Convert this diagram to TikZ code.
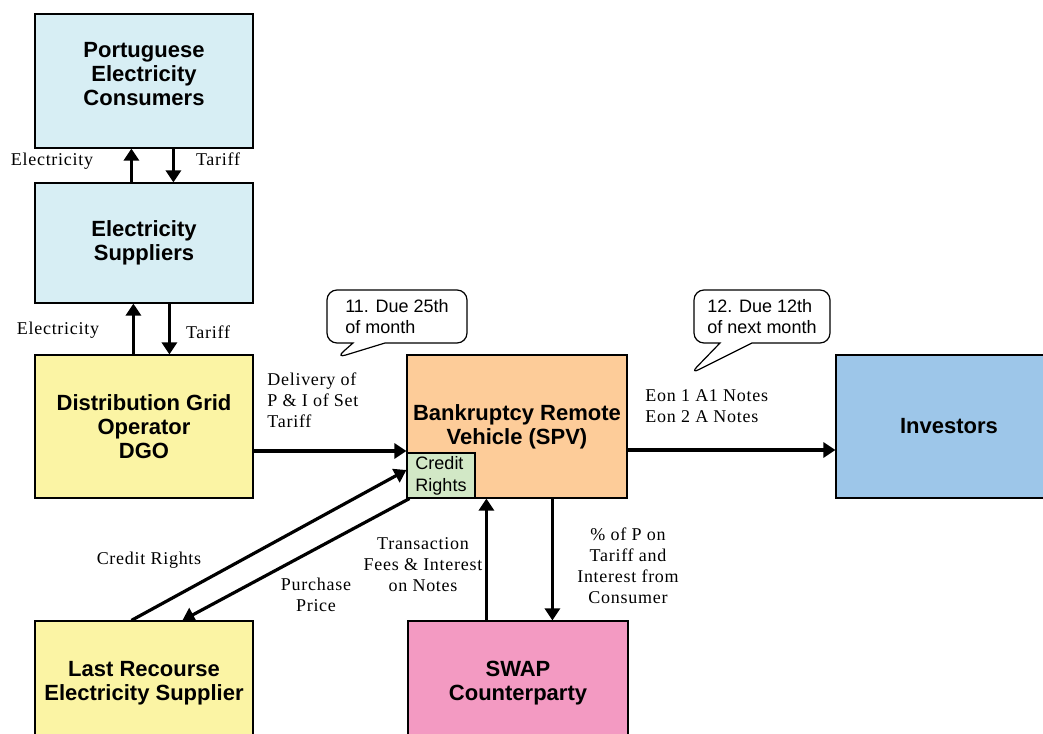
\documentclass[tikz,border=0pt]{standalone}
\usepackage{fontspec}
\setmainfont{Liberation Serif}
\setsansfont{Liberation Sans}
\newfontfamily\lblfont[LetterSpace=4]{Liberation Serif}
\usetikzlibrary{arrows.meta,shapes.callouts}

\definecolor{consblue}{HTML}{D7EEF4}
\definecolor{dgoyellow}{HTML}{FBF4A4}
\definecolor{spvorange}{HTML}{FDCC99}
\definecolor{creditgreen}{HTML}{D2E8C6}
\definecolor{invblue}{HTML}{9DC6E9}
\definecolor{swappink}{HTML}{F39AC2}

\tikzset{
  box/.style={draw, line width=0.6pt, align=center, inner sep=0pt,
    font=\sffamily\bfseries\fontsize{11}{12}\selectfont},
  lbl/.style={align=center, inner sep=0pt, font=\lblfont\fontsize{9}{10.5}\selectfont},
  flow/.style={line width=1.6pt, -{Triangle[length=6pt,width=7.5pt]}},
  bubble/.style={draw, rectangle callout, rounded corners=5pt, fill=white,
    line width=0.6pt, align=left, minimum width=70pt, minimum height=26.5pt,
    callout pointer width=16pt, font=\sffamily\fontsize{9}{10.5}\selectfont}
}

\begin{document}
\begin{tikzpicture}[x=0.5pt, y=-0.5pt]
\useasboundingbox (0,0) rectangle (1043,733);

\node[box, fill=consblue, minimum width=109pt, minimum height=67pt, text depth=7pt] (cons) at (144,81) {Portuguese\\Electricity\\Consumers};
\node[box, fill=consblue, minimum width=109pt, minimum height=60pt]    (supp) at (144,243)   {Electricity\\Suppliers};
\node[box, fill=dgoyellow, minimum width=109pt, minimum height=71.5pt] (dgo)  at (144,426.5) {Distribution Grid\\Operator\\DGO};
\node[box, fill=spvorange, minimum width=110pt, minimum height=71.5pt] (spv)  at (517,426.5) {Bankruptcy Remote\\Vehicle (SPV)};
\node[box, fill=creditgreen, minimum width=34pt, minimum height=22.5pt, align=left,
      font=\sffamily\fontsize{9}{11}\selectfont]                      (cred) at (441,475.5) {Credit\\Rights};
\node[box, fill=invblue, minimum width=113pt, minimum height=71.5pt]   (inv)  at (949,426.5) {Investors};
\node[box, fill=dgoyellow, minimum width=109pt, minimum height=62pt]   (last) at (144,683)   {Last Recourse\\Electricity Supplier};
\node[box, fill=swappink, minimum width=110pt, minimum height=62pt]    (swap) at (518,683)   {SWAP\\Counterparty};

% flows between the boxes
\foreach \a/\b/\s in {supp/cons/48.5pt, dgo/supp/49.5pt}
  \draw[flow] ([xshift=\s]\a.north west) -- ([xshift=\s]\b.south west);
\foreach \a/\b/\s in {cons/supp/69.5pt, supp/dgo/67.5pt}
  \draw[flow] ([xshift=\s]\a.south west) -- ([xshift=\s]\b.north west);

\draw[flow] ([yshift=-12.25pt]dgo.east) -- ([yshift=-12.25pt]spv.west);
\draw[flow] ([yshift=-11.75pt]spv.east) -- ([yshift=-11.75pt]inv.west);
\draw[flow] ([xshift=48.5pt]last.north west) -- ([yshift=2.75pt]cred.west);
\draw[flow] ([xshift=1.5pt]cred.south west) -- ([xshift=74pt]last.north west);
\draw[flow] ([xshift=39.5pt]swap.north west) -- ([xshift=40pt]spv.south west);
\draw[flow] ([xshift=73pt]spv.south west) -- ([xshift=72.5pt]swap.north west);

\node[lbl] (elec1) at (52,161) {Electricity};
\node[lbl] (tar1)  at (218,159) {Tariff};
\node[lbl] (elec2) at (58,330) {Electricity};
\node[lbl] (tar2)  at (208,332) {Tariff};
\node[lbl, anchor=west, align=left] (deliv) at (267,400) {Delivery of\\P \& I of Set\\Tariff};
\node[lbl, anchor=west, align=left] (notes) at (645,406) {Eon 1 A1 Notes\\Eon 2 A Notes};
\node[lbl] (credl) at (149,560) {Credit Rights};
\node[lbl] (price) at (316,595) {Purchase\\Price};
\node[lbl] (fees)  at (423,565) {Transaction\\Fees \& Interest\\on Notes};
\node[lbl] (pct)   at (628,566) {\% of P on\\Tariff and\\Interest from\\Consumer};

\coordinate (tip1) at (336,358);
\coordinate (tip2) at (690,374);
\node[bubble, callout absolute pointer={(tip1)}] (due1) at (397,316.5) {11. Due 25th\\of month};
\node[bubble, minimum width=68pt, callout absolute pointer={(tip2)}] (due2) at (762,316.5) {12. Due 12th\\of next month};

\end{tikzpicture}
\end{document}
